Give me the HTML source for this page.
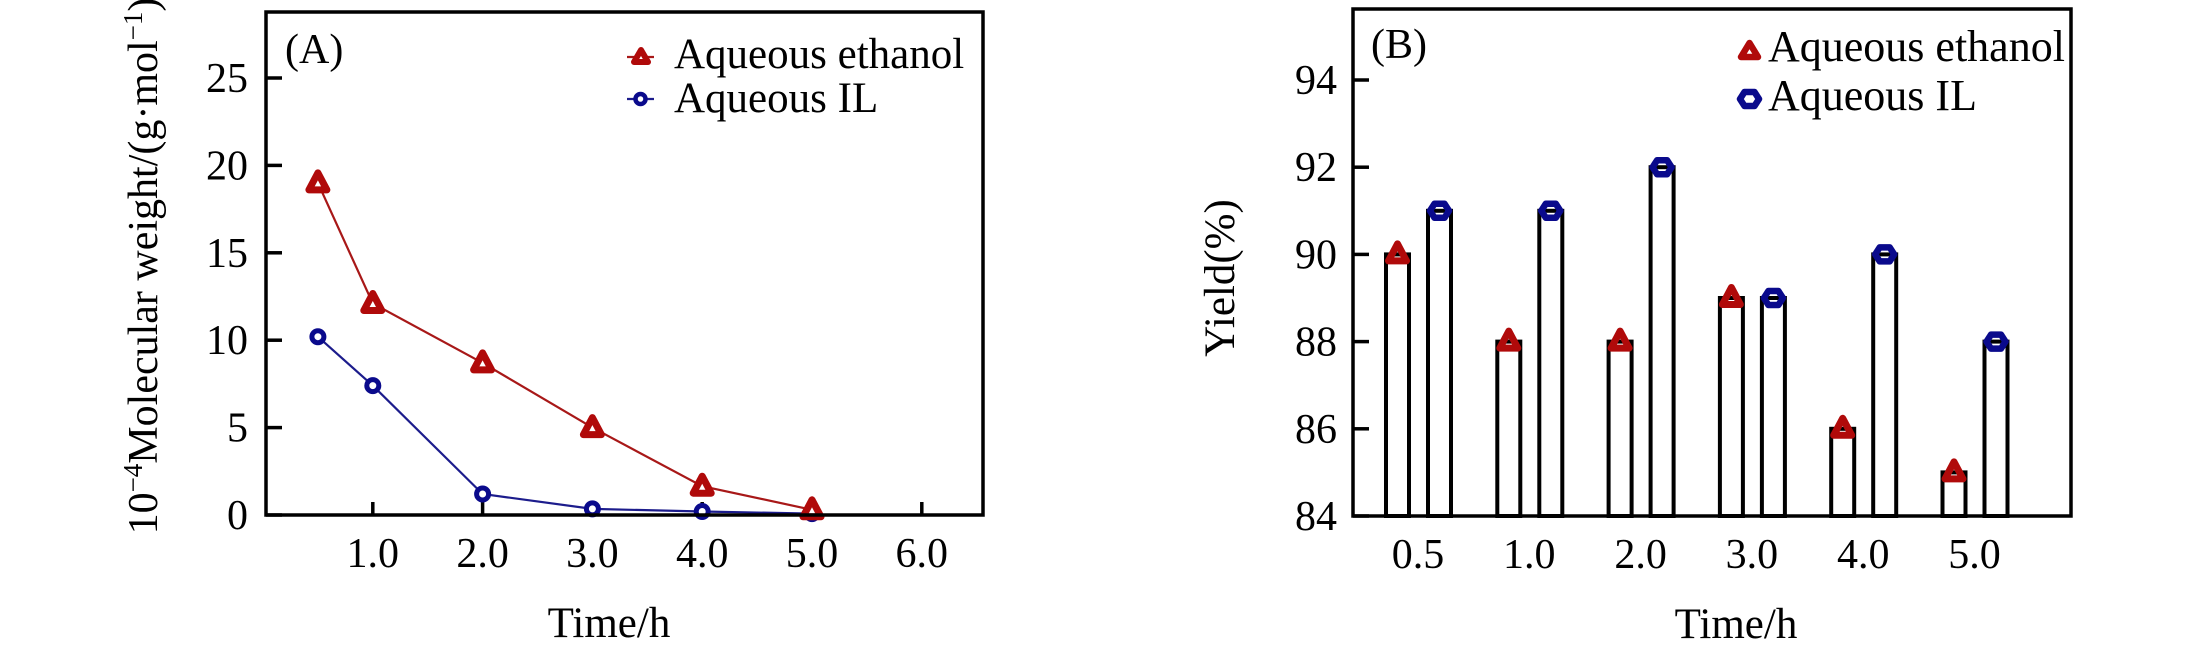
<!DOCTYPE html>
<html>
<head>
<meta charset="utf-8">
<style>
  html,body{margin:0;padding:0;background:#fff;}
  svg{display:block;}
  text{font-family:"Liberation Serif","Times New Roman",serif;fill:#000;}
</style>
</head>
<body>
<svg width="2205" height="652" viewBox="0 0 2205 652" xmlns="http://www.w3.org/2000/svg">
  <rect width="2205" height="652" fill="#fff"/>

  <!-- ================= PANEL A ================= -->
  <text transform="translate(157,266) rotate(-90)" text-anchor="middle" font-size="42">10<tspan font-size="27" dy="-15">−4</tspan><tspan dy="15">Molecular weight/(g·mol</tspan><tspan font-size="27" dy="-15">−1</tspan><tspan dy="15">)</tspan></text>

  <g stroke="#000" stroke-width="3.5">
    <line x1="266" y1="515" x2="282" y2="515"/>
    <line x1="266" y1="427.6" x2="282" y2="427.6"/>
    <line x1="266" y1="340.2" x2="282" y2="340.2"/>
    <line x1="266" y1="252.8" x2="282" y2="252.8"/>
    <line x1="266" y1="165.4" x2="282" y2="165.4"/>
    <line x1="266" y1="78" x2="282" y2="78"/>
  </g>
  <g font-size="42" text-anchor="end">
    <text x="248" y="529">0</text>
    <text x="248" y="441.6">5</text>
    <text x="248" y="354.2">10</text>
    <text x="248" y="266.8">15</text>
    <text x="248" y="179.4">20</text>
    <text x="248" y="92">25</text>
  </g>

  <g stroke="#000" stroke-width="3.5">
    <line x1="372.8" y1="515" x2="372.8" y2="502"/>
    <line x1="482.6" y1="515" x2="482.6" y2="502"/>
    <line x1="592.4" y1="515" x2="592.4" y2="502"/>
    <line x1="702.2" y1="515" x2="702.2" y2="502"/>
    <line x1="812" y1="515" x2="812" y2="502"/>
    <line x1="921.8" y1="515" x2="921.8" y2="502"/>
  </g>
  <g font-size="42" text-anchor="middle">
    <text x="372.8" y="567">1.0</text>
    <text x="482.6" y="567">2.0</text>
    <text x="592.4" y="567">3.0</text>
    <text x="702.2" y="567">4.0</text>
    <text x="812" y="567">5.0</text>
    <text x="921.8" y="567">6.0</text>
  </g>
  <text x="609" y="637" font-size="43" text-anchor="middle">Time/h</text>

  <text x="285" y="63" font-size="42">(A)</text>

  <!-- IL series (blue) -->
  <polyline fill="none" stroke="#1c1c8c" stroke-width="2.2"
    points="317.9,336.7 372.8,385.6 482.6,494 592.4,508.9 702.2,511.5 812,513.6"/>
  <g fill="#fff" stroke="#0a0a8c" stroke-width="5">
    <circle cx="317.9" cy="336.7" r="6"/>
    <circle cx="372.8" cy="385.6" r="6"/>
    <circle cx="482.6" cy="494" r="6"/>
    <circle cx="592.4" cy="508.9" r="6"/>
    <circle cx="702.2" cy="511.5" r="6"/>
    <circle cx="812" cy="513.6" r="6"/>
  </g>

  <!-- ethanol series (red) -->
  <polyline fill="none" stroke="#a81818" stroke-width="2.2"
    points="317.9,182.9 372.8,303.5 482.6,362.9 592.4,427.6 702.2,486.2 812,509.8"/>
  <g fill="#fff" stroke="#b00a0a" stroke-width="7" stroke-linejoin="round">
    <path d="M317.9,172.9 L326.9,189.9 L308.9,189.9 Z"/>
    <path d="M372.8,293.5 L381.8,310.5 L363.8,310.5 Z"/>
    <path d="M482.6,352.9 L491.6,369.9 L473.6,369.9 Z"/>
    <path d="M592.4,417.6 L601.4,434.6 L583.4,434.6 Z"/>
    <path d="M702.2,476.2 L711.2,493.2 L693.2,493.2 Z"/>
    <path d="M812,499.8 L821,516.8 L803,516.8 Z"/>
  </g>

  <!-- legend A -->
  <line x1="627" y1="57" x2="654" y2="57" stroke="#a81818" stroke-width="2.2"/>
  <path d="M641,50 L648,62 L634,62 Z" fill="#fff" stroke="#b00a0a" stroke-width="6" stroke-linejoin="round"/>
  <line x1="627" y1="99" x2="654" y2="99" stroke="#1c1c8c" stroke-width="2.2"/>
  <circle cx="640.5" cy="99" r="5" fill="#fff" stroke="#0a0a8c" stroke-width="4.5"/>
  <text x="674" y="68" font-size="43">Aqueous ethanol</text>
  <text x="674" y="112" font-size="43">Aqueous IL</text>

  <rect x="266" y="12" width="717" height="503" fill="none" stroke="#000" stroke-width="3.5"/>

  <!-- ================= PANEL B ================= -->
  <text transform="translate(1234,278) rotate(-90)" text-anchor="middle" font-size="43">Yield(%)</text>

  <g stroke="#000" stroke-width="3.5">
    <line x1="1353" y1="516" x2="1369" y2="516"/>
    <line x1="1353" y1="428.8" x2="1369" y2="428.8"/>
    <line x1="1353" y1="341.6" x2="1369" y2="341.6"/>
    <line x1="1353" y1="254.4" x2="1369" y2="254.4"/>
    <line x1="1353" y1="167.2" x2="1369" y2="167.2"/>
    <line x1="1353" y1="80" x2="1369" y2="80"/>
  </g>
  <g font-size="42" text-anchor="end">
    <text x="1337" y="530">84</text>
    <text x="1337" y="442.8">86</text>
    <text x="1337" y="355.6">88</text>
    <text x="1337" y="268.4">90</text>
    <text x="1337" y="181.2">92</text>
    <text x="1337" y="94">94</text>
  </g>

  <g fill="#fff" stroke="#000" stroke-width="4">
    <rect x="1386" y="254.4" width="23" height="261.6"/>
    <rect x="1428" y="210.8" width="23" height="305.2"/>

    <rect x="1497.3" y="341.6" width="23" height="174.4"/>
    <rect x="1539.3" y="210.8" width="23" height="305.2"/>

    <rect x="1608.6" y="341.6" width="23" height="174.4"/>
    <rect x="1650.6" y="167.2" width="23" height="348.8"/>

    <rect x="1719.9" y="298" width="23" height="218"/>
    <rect x="1761.9" y="298" width="23" height="218"/>

    <rect x="1831.2" y="428.8" width="23" height="87.2"/>
    <rect x="1873.2" y="254.4" width="23" height="261.6"/>

    <rect x="1942.5" y="472.4" width="23" height="43.6"/>
    <rect x="1984.5" y="341.6" width="23" height="174.4"/>
  </g>

  <g fill="none" stroke="#b00a0a" stroke-width="7" stroke-linejoin="round">
    <path d="M1397.5,243.9 L1406.5,260.9 L1388.5,260.9 Z"/>
    <path d="M1508.8,331.1 L1517.8,348.1 L1499.8,348.1 Z"/>
    <path d="M1620.1,331.1 L1629.1,348.1 L1611.1,348.1 Z"/>
    <path d="M1731.4,287.5 L1740.4,304.5 L1722.4,304.5 Z"/>
    <path d="M1842.7,418.3 L1851.7,435.3 L1833.7,435.3 Z"/>
    <path d="M1954,461.9 L1963,478.9 L1945,478.9 Z"/>
  </g>
  <g fill="none" stroke="#0a0a8c" stroke-width="6.5" stroke-linejoin="round">
    <path d="M1430,210.8 L1434.5,203.8 L1444.5,203.8 L1449,210.8 L1444.5,217.8 L1434.5,217.8 Z"/>
    <path d="M1541.3,210.8 L1545.8,203.8 L1555.8,203.8 L1560.3,210.8 L1555.8,217.8 L1545.8,217.8 Z"/>
    <path d="M1652.6,167.2 L1657.1,160.2 L1667.1,160.2 L1671.6,167.2 L1667.1,174.2 L1657.1,174.2 Z"/>
    <path d="M1763.9,298 L1768.4,291 L1778.4,291 L1782.9,298 L1778.4,305 L1768.4,305 Z"/>
    <path d="M1875.2,254.4 L1879.7,247.4 L1889.7,247.4 L1894.2,254.4 L1889.7,261.4 L1879.7,261.4 Z"/>
    <path d="M1986.5,341.6 L1991,334.6 L2001,334.6 L2005.5,341.6 L2001,348.6 L1991,348.6 Z"/>
  </g>

  <g font-size="42" text-anchor="middle">
    <text x="1418" y="568">0.5</text>
    <text x="1529.3" y="568">1.0</text>
    <text x="1640.6" y="568">2.0</text>
    <text x="1751.9" y="568">3.0</text>
    <text x="1863.2" y="568">4.0</text>
    <text x="1974.5" y="568">5.0</text>
  </g>
  <text x="1736" y="638" font-size="43" text-anchor="middle">Time/h</text>

  <text x="1371" y="58" font-size="42">(B)</text>

  <!-- legend B -->
  <path d="M1749.5,43 L1758,57 L1741,57 Z" fill="#fff" stroke="#b00a0a" stroke-width="6.5" stroke-linejoin="round"/>
  <path d="M1740,99 L1744.5,92 L1754.5,92 L1759,99 L1754.5,106 L1744.5,106 Z" fill="#fff" stroke="#0a0a8c" stroke-width="6.5" stroke-linejoin="round"/>
  <text x="1768" y="61" font-size="44">Aqueous ethanol</text>
  <text x="1768" y="110" font-size="44">Aqueous IL</text>

  <rect x="1353" y="9" width="718" height="507" fill="none" stroke="#000" stroke-width="3.5"/>
</svg>
</body>
</html>
